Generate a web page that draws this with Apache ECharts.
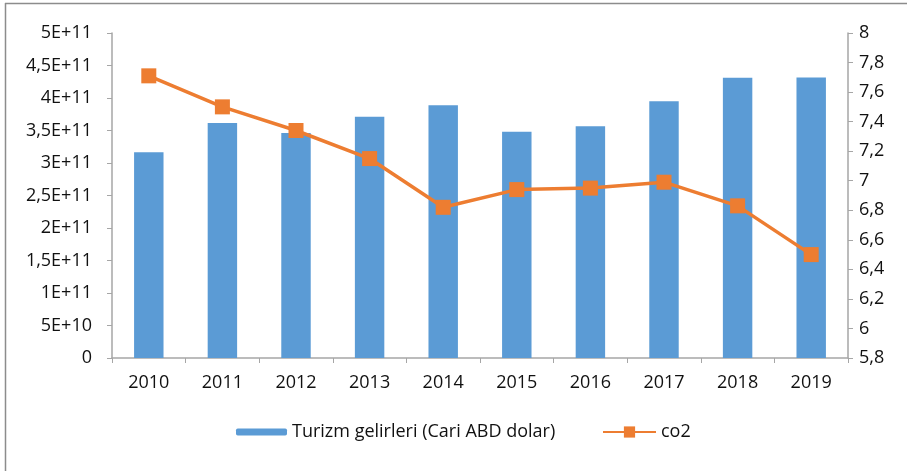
<!DOCTYPE html>
<html>
  <head>
    <meta charset="utf-8">
    <title>Turizm gelirleri ve co2</title>
    <script src="https://cdn.jsdelivr.net/npm/echarts@6/dist/echarts.min.js"></script>
    <style>
      html, body { margin: 0; padding: 0; background: #fff; }
      #main { width: 907px; height: 471px; }
    </style>
  </head>
  <body>
    <div id="main"></div>
    <script>
        // values
        const years = ['2010', '2011', '2012', '2013', '2014', '2015', '2016', '2017', '2018', '2019'];
        const tourism = [3.165e11, 3.615e11, 3.46e11, 3.71e11, 3.89e11, 3.48e11, 3.565e11, 3.95e11, 4.31e11, 4.315e11];
        const co2 = [7.71, 7.50, 7.34, 7.15, 6.82, 6.94, 6.95, 6.99, 6.83, 6.50];
        const leftTicks = ['0', '5E+10', '1E+11', '1,5E+11', '2E+11', '2,5E+11', '3E+11', '3,5E+11', '4E+11', '4,5E+11', '5E+11'];
        const rightTicks = ['5,8', '6', '6,2', '6,4', '6,6', '6,8', '7', '7,2', '7,4', '7,6', '7,8', '8'];

        const font = 'Open Sans';
        const txt = '#111';
        const axisGray = '#A6A6A6';
        const fs = 18;

        const chart = echarts.init(document.getElementById('main'));
        chart.setOption({
            animation: false,
            textStyle: { fontFamily: font },
            grid: { left: 112, right: 59, top: 33, bottom: 113, containLabel: false },
            legend: [
                {
                    data: ['Turizm gelirleri (Cari ABD dolar)'],
                    left: 236, top: 423, padding: 0,
                    itemWidth: 51, itemHeight: 7,
                    textStyle: { fontFamily: font, fontSize: fs, color: txt }
                },
                {
                    data: ['co2'],
                    left: 602, top: 423, padding: 0,
                    itemWidth: 53, itemHeight: 14,
                    textStyle: { fontFamily: font, fontSize: fs, color: txt }
                }
            ],
            xAxis: {
                type: 'category',
                data: years,
                boundaryGap: true,
                axisLine: { lineStyle: { color: axisGray, width: 1.5 } },
                axisTick: { show: true, length: 5, lineStyle: { color: axisGray } },
                axisLabel: { margin: 16, fontSize: fs, color: txt, fontFamily: font }
            },
            yAxis: [
                {
                    type: 'value',
                    min: 0, max: 5e11, interval: 5e10,
                    axisLine: { show: true, lineStyle: { color: axisGray, width: 1.5 } },
                    axisTick: { show: true, length: 5, lineStyle: { color: axisGray } },
                    splitLine: { show: false },
                    axisLabel: {
                        margin: 20, fontSize: fs, color: txt, fontFamily: font,
                        formatter: (v, i) => leftTicks[i]
                    }
                },
                {
                    type: 'value',
                    position: 'right',
                    min: 5.8, max: 8, interval: 0.2,
                    axisLine: { show: true, lineStyle: { color: axisGray, width: 1.5 } },
                    axisTick: { show: true, length: 5, lineStyle: { color: axisGray } },
                    splitLine: { show: false },
                    axisLabel: {
                        margin: 11, fontSize: fs, color: txt, fontFamily: font,
                        formatter: (v, i) => rightTicks[i]
                    }
                }
            ],
            series: [
                {
                    name: 'Turizm gelirleri (Cari ABD dolar)',
                    type: 'bar',
                    data: tourism,
                    barWidth: '40%',
                    itemStyle: { color: '#5B9BD5' }
                },
                {
                    name: 'co2',
                    type: 'line',
                    yAxisIndex: 1,
                    data: co2,
                    symbol: 'rect',
                    symbolSize: 15,
                    lineStyle: { color: '#ED7D31', width: 3.5 },
                    itemStyle: { color: '#ED7D31' }
                }
            ],
            graphic: [
                { type: 'line', shape: { x1: 5.5, y1: 3, x2: 5.5, y2: 471 }, style: { stroke: '#8c8c8c', lineWidth: 1.5 } },
                { type: 'line', shape: { x1: 5, y1: 3.5, x2: 907, y2: 3.5 }, style: { stroke: '#8c8c8c', lineWidth: 1.5 } }
            ]
        });
    </script>
  </body>
</html>
